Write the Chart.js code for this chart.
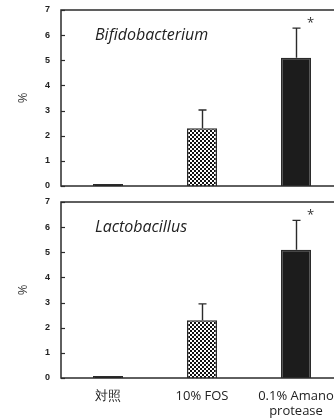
<!DOCTYPE html>
<html>
<head>
<meta charset="utf-8">
<script src="https://cdn.jsdelivr.net/npm/chart.js@4/dist/chart.umd.min.js"></script>
<style>
  body { margin: 0; background: #fff; overflow: hidden; width: 334px; height: 420px; }
  #top { position: absolute; left: 0; top: 0; }
  #bottom { position: absolute; left: 0; top: 196px; }
</style>
</head>
<body>
<canvas id="top" width="343" height="196"></canvas>
<canvas id="bottom" width="343" height="224"></canvas>
<script>
// categories + values
var groups = ["対照", "10% FOS", ["0.1% Amano", "protease"]];
var yTicks = [0, 1, 2, 3, 4, 5, 6, 7];

var bifidoValues = [0.08, 2.3, 5.1];
var bifidoErrors = [0, 0.72, 1.18];
var lactoValues = [0.08, 2.3, 5.1];
var lactoErrors = [0, 0.65, 1.17];
var starred = [false, false, true];

var INK = "#2b2b2b";

// small checker tile for the FOS bar
function checker() {
  var c = document.createElement("canvas");
  c.width = 4; c.height = 4;
  var g = c.getContext("2d");
  g.fillStyle = "#fff"; g.fillRect(0, 0, 4, 4);
  g.fillStyle = "#111";
  g.fillRect(0, 0, 2, 2);
  g.fillRect(2, 2, 2, 2);
  return g.createPattern(c, "repeat");
}

var framePlugin = {
  id: "frame",
  afterDatasetsDraw: function (chart, args, opts) {
    var ctx = chart.ctx, a = chart.chartArea;
    var y = chart.scales.y, x = chart.scales.x;
    ctx.save();
    ctx.strokeStyle = INK;
    ctx.lineWidth = 1.5;
    ctx.strokeRect(a.left, a.top, a.right - a.left, a.bottom - a.top);
    // inward ticks
    ctx.lineWidth = 1.2;
    yTicks.forEach(function (t) {
      var py = Math.round(y.getPixelForValue(t)) + 0.5;
      ctx.beginPath();
      ctx.moveTo(a.left, py);
      ctx.lineTo(a.left + 4, py);
      ctx.stroke();
    });
    // error bars (upper only)
    var vals = opts.values, errs = opts.errors;
    ctx.lineWidth = 1.4;
    vals.forEach(function (v, i) {
      if (!errs[i]) return;
      var px = Math.round(x.getPixelForValue(i)) + 0.5;
      var y0 = y.getPixelForValue(v);
      var y1 = y.getPixelForValue(v + errs[i]);
      ctx.beginPath();
      ctx.moveTo(px, y0);
      ctx.lineTo(px, y1);
      ctx.moveTo(px - 4, y1);
      ctx.lineTo(px + 4, y1);
      ctx.stroke();
      if (starred[i]) {
        ctx.fillStyle = "#333";
        ctx.font = "13px 'Open Sans'";
        ctx.textAlign = "center";
        ctx.textBaseline = "middle";
        ctx.fillText("*", px + 14, y1 - 5);
      }
    });
    // panel title
    ctx.fillStyle = "#222";
    ctx.font = "italic 16px 'Open Sans'";
    ctx.textAlign = "left";
    ctx.textBaseline = "middle";
    ctx.fillText(opts.title, a.left + 34, y.getPixelForValue(6));
    ctx.restore();
  }
};

function makePanel(id, values, errors, title, showLabels, padTop, xHeight) {
  return new Chart(id, {
    type: "bar",
    data: {
      labels: groups,
      datasets: [{
        data: values,
        backgroundColor: ["#111", checker(), "#1c1c1c"],
        borderColor: INK,
        borderWidth: 1.5,
        barPercentage: 0.32,
        categoryPercentage: 1
      }]
    },
    options: {
      responsive: false,
      animation: false,
      layout: { padding: { top: padTop, left: 0, right: 0, bottom: 0 } },
      plugins: {
        legend: { display: false },
        tooltip: { enabled: false },
        frame: { values: values, errors: errors, title: title }
      },
      scales: {
        x: {
          grid: { display: false, drawTicks: false },
          border: { display: false },
          ticks: {
            display: showLabels,
            maxRotation: 0,
            autoSkip: false,
            padding: 10,
            color: "#222",
            font: { family: "'Open Sans'", size: 13 }
          },
          afterFit: function (s) { s.height = xHeight; s.paddingLeft = 0; s.paddingRight = 0; }
        },
        y: {
          min: 0,
          max: 7,
          grid: { display: false, drawTicks: false },
          border: { display: false },
          ticks: {
            stepSize: 1,
            padding: 11,
            color: "#222",
            font: { family: "'Liberation Sans'", size: 9, weight: "bold" }
          },
          title: {
            display: true,
            text: "%",
            color: "#444",
            padding: { top: 15, bottom: 0 },
            font: { family: "'Open Sans'", size: 13 }
          },
          afterFit: function (s) { s.width = 61; s.paddingTop = 0; s.paddingBottom = 0; }
        }
      }
    },
    plugins: [framePlugin]
  });
}

makePanel("top", bifidoValues, bifidoErrors, "Bifidobacterium", false, 10, 10);
makePanel("bottom", lactoValues, lactoErrors, "Lactobacillus", true, 6, 42);
</script>
</body>
</html>
